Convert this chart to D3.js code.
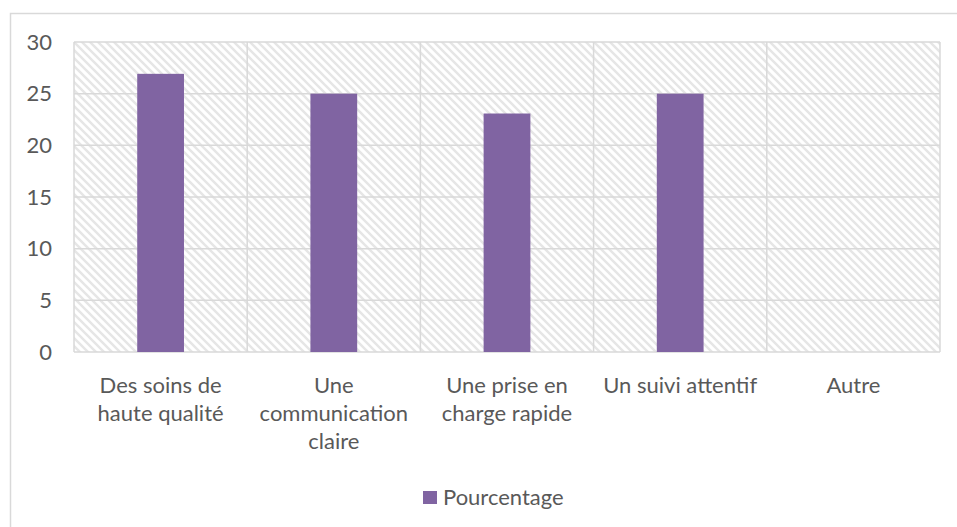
<!DOCTYPE html>
<html>
<head>
<meta charset="utf-8">
<script src="https://cdn.jsdelivr.net/npm/d3@7"></script>
<style>
  body { margin: 0; background: #fff; }
  svg { display: block; }
  text { font-family: Lato, "Noto Sans", sans-serif; fill: #595959; }
</style>
</head>
<body>
<div id="chart"></div>
<script>
// chart data
var categories = [
    ["Des soins de", "haute qualité"],
    ["Une", "communication", "claire"],
    ["Une prise en", "charge rapide"],
    ["Un suivi attentif"],
    ["Autre"]
];
var values = [26.92, 25, 23.08, 25, 0];
var yTicks = [0, 5, 10, 15, 20, 25, 30];
var seriesName = "Pourcentage";

var width = 957, height = 527;
var margin = { top: 42, right: 17, bottom: 175, left: 74 };
var innerW = width - margin.left - margin.right,
    innerH = height - margin.top - margin.bottom;
var fontSize = "22px";

var svg = d3.select("#chart")
    .append("svg")
    .attr("width", width)
    .attr("height", height);

// hatched background pattern
var defs = svg.append("defs");
var pat = defs.append("pattern")
    .attr("id", "hatch")
    .attr("patternUnits", "userSpaceOnUse")
    .attr("width", 8)
    .attr("height", 8);
pat.append("rect").attr("width", 8).attr("height", 8).attr("fill", "#fff");
pat.append("path")
    .attr("d", "M-2,-2 L10,10 M-2,6 L2,10 M6,-2 L10,2")
    .attr("stroke", "#e6e6e6")
    .attr("stroke-width", 2.4);

// outer chart border
svg.append("rect")
    .attr("x", 10.5).attr("y", 13.5)
    .attr("width", 960).attr("height", 540)
    .attr("fill", "none")
    .attr("stroke", "#d9d9d9")
    .attr("stroke-width", 1.5);

var g = svg.append("g")
    .attr("transform", "translate(" + margin.left + "," + margin.top + ")");

var x = d3.scaleBand()
    .domain(d3.range(categories.length))
    .range([0, innerW])
    .paddingInner(0.73)
    .paddingOuter(0.365);

var xBand = d3.scaleBand()
    .domain(d3.range(categories.length))
    .range([0, innerW]);

var y = d3.scaleLinear()
    .domain([0, 30])
    .range([innerH, 0]);

g.append("rect")
    .attr("width", innerW)
    .attr("height", innerH)
    .attr("fill", "url(#hatch)");

// horizontal gridlines
g.append("g")
    .selectAll("line")
    .data(yTicks)
    .enter()
    .append("line")
    .attr("x1", 0).attr("x2", innerW)
    .attr("y1", function (d) { return y(d); })
    .attr("y2", function (d) { return y(d); })
    .attr("stroke", "#d9d9d9")
    .attr("stroke-width", 1.5);

// vertical gridlines between categories
g.append("g")
    .selectAll("line")
    .data(d3.range(categories.length + 1))
    .enter()
    .append("line")
    .attr("x1", function (d) { return d * xBand.step(); })
    .attr("x2", function (d) { return d * xBand.step(); })
    .attr("y1", 0).attr("y2", innerH)
    .attr("stroke", "#d9d9d9")
    .attr("stroke-width", 1.5);

// bars
g.append("g")
    .selectAll("rect")
    .data(values)
    .enter()
    .append("rect")
    .attr("x", function (d, i) { return x(i); })
    .attr("y", function (d) { return y(d); })
    .attr("width", x.bandwidth())
    .attr("height", function (d) { return innerH - y(d); })
    .attr("fill", "#8064a2");

// y axis labels
var yAxis = d3.axisLeft(y).tickValues(yTicks).tickSize(0).tickPadding(22);
g.append("g")
    .call(yAxis)
    .call(function (a) { a.select(".domain").remove(); })
    .selectAll("text")
    .style("font-size", fontSize)
    .style("font-family", "Lato, 'Noto Sans', sans-serif")
    .attr("fill", "#595959");

// x category labels
var labels = g.append("g")
    .selectAll("text")
    .data(categories)
    .enter()
    .append("text")
    .attr("text-anchor", "middle")
    .attr("x", function (d, i) { return xBand(i) + xBand.bandwidth() / 2; })
    .attr("y", innerH + 41)
    .style("font-size", fontSize);

labels.selectAll("tspan")
    .data(function (d) { return d; })
    .enter()
    .append("tspan")
    .attr("x", function () { return d3.select(this.parentNode).attr("x"); })
    .attr("dy", function (d, i) { return i === 0 ? 0 : 28; })
    .text(function (d) { return d; });

// legend
var legend = svg.append("g")
    .attr("transform", "translate(423,491)");
legend.append("rect")
    .attr("width", 14).attr("height", 13)
    .attr("fill", "#8064a2");
legend.append("text")
    .attr("x", 20).attr("y", 14)
    .style("font-size", fontSize)
    .text(seriesName);
</script>
</body>
</html>
